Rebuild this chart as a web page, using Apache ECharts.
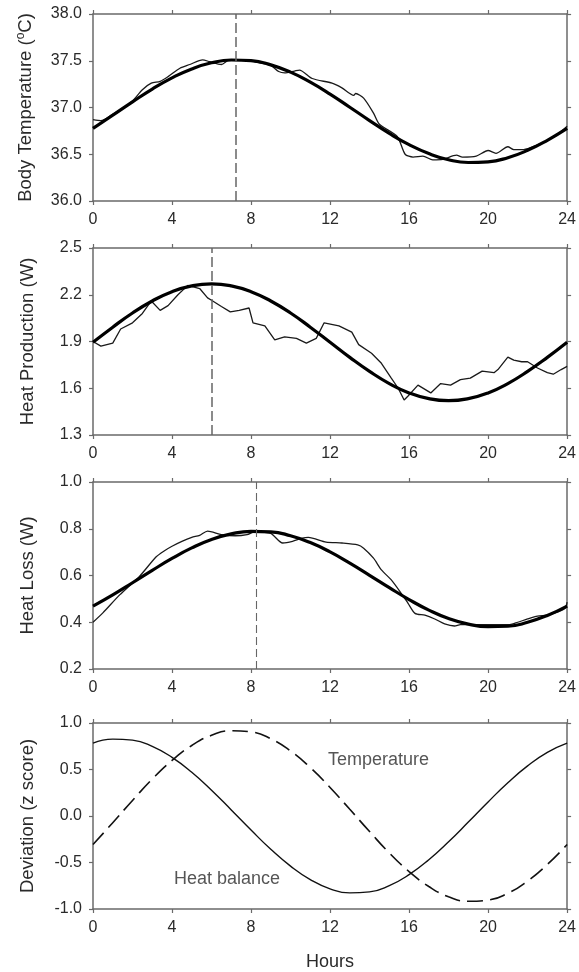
<!DOCTYPE html>
<html><head><meta charset="utf-8">
<script src="https://cdn.jsdelivr.net/npm/echarts@6/dist/echarts.min.js"></script>
<style>html,body{margin:0;padding:0;background:#fff}#c{width:579px;height:972px}</style>
</head><body><div id="c"></div>
<script>
// ---- data ----
const fitHours = [0,1,2,3,4,5,6,7,8,9,10,11,12,13,14,15,16,17,18,19,20,21,22,23,24];
const xTicks = [0,4,8,12,16,20,24];

const tempFit = [36.776,36.917,37.060,37.197,37.317,37.413,37.478,37.508,37.501,37.456,37.378,37.271,37.144,37.003,36.860,36.723,36.603,36.507,36.441,36.412,36.419,36.463,36.542,36.649,36.776];
const tempRawHours = [0,0.4,1,1.5,2,2.5,2.95,3.4,3.8,4.4,4.9,5.55,5.9,6.5,6.9,7.7,8.4,9,9.4,9.7,10.2,10.45,11.1,12.1,12.6,13.2,13.3,13.7,14.2,14.5,15.4,15.8,16.2,16.7,17.2,17.7,18.4,18.7,19.4,20.0,20.4,21.0,21.3,21.8,22.5,23,23.5,24];
const tempRawValues = [36.87,36.86,36.93,36.99,37.07,37.19,37.26,37.28,37.33,37.42,37.46,37.51,37.49,37.46,37.51,37.51,37.48,37.45,37.385,37.37,37.39,37.40,37.31,37.26,37.21,37.13,37.15,37.10,36.94,36.82,36.69,36.50,36.47,36.48,36.44,36.445,36.49,36.47,36.48,36.54,36.51,36.58,36.55,36.55,36.60,36.65,36.71,36.80];

const prodFit = [1.895,1.992,2.083,2.160,2.220,2.257,2.270,2.257,2.220,2.160,2.083,1.992,1.895,1.798,1.708,1.630,1.570,1.533,1.520,1.533,1.570,1.630,1.708,1.798,1.895];
const prodRawHours = [0,0.4,1,1.4,2,2.5,2.95,3.4,3.8,4.3,4.8,5.4,5.8,6.0,6.5,6.95,7.4,7.9,8.1,8.7,9.2,9.7,10.3,10.8,11.3,11.7,12.45,13.1,13.45,14.1,14.6,15.1,15.45,15.75,15.95,16.45,17.1,17.6,18.1,18.6,19.1,19.7,20.3,20.5,21.0,21.3,21.7,22.0,22.5,23.0,23.3,23.7,24];
const prodRawValues = [1.90,1.87,1.89,1.98,2.02,2.08,2.16,2.10,2.13,2.20,2.26,2.24,2.18,2.165,2.125,2.09,2.10,2.115,2.02,2.0,1.91,1.93,1.92,1.89,1.92,2.02,2.00,1.96,1.88,1.825,1.76,1.665,1.60,1.525,1.55,1.62,1.57,1.63,1.62,1.655,1.665,1.71,1.70,1.72,1.80,1.78,1.77,1.77,1.73,1.70,1.69,1.72,1.74];

const lossFit = [0.469,0.517,0.569,0.622,0.673,0.718,0.754,0.778,0.789,0.787,0.770,0.741,0.701,0.653,0.601,0.548,0.497,0.452,0.416,0.392,0.381,0.383,0.400,0.429,0.469];
const lossRawHours = [0,0.5,1.35,2.35,3.2,3.6,4.0,4.5,5.0,5.4,5.8,6.5,7.2,7.8,8.2,9.0,9.6,10.1,10.6,10.9,11.8,12.6,13.4,13.7,14.2,14.6,15.1,15.6,15.95,16.3,16.8,17.3,17.8,18.3,18.6,19.4,20.4,21.1,21.5,22,22.5,23,23.5,23.9,24];
const lossRawValues = [0.40,0.44,0.517,0.596,0.68,0.705,0.725,0.746,0.763,0.772,0.79,0.775,0.77,0.775,0.787,0.78,0.739,0.746,0.76,0.763,0.743,0.739,0.731,0.717,0.674,0.624,0.581,0.524,0.481,0.438,0.43,0.414,0.393,0.384,0.39,0.39,0.39,0.39,0.40,0.414,0.426,0.43,0.443,0.46,0.486];

const peakHours = [7.25, 6.0, 8.25];

const devTemperature = [-0.307,-0.072,0.167,0.397,0.597,0.758,0.868,0.917,0.904,0.831,0.699,0.521,0.307,0.072,-0.167,-0.397,-0.597,-0.758,-0.868,-0.917,-0.904,-0.831,-0.699,-0.521,-0.307];
const devHeatBalance = [0.783,0.827,0.816,0.749,0.631,0.470,0.277,0.065,-0.151,-0.358,-0.539,-0.684,-0.783,-0.827,-0.816,-0.749,-0.631,-0.470,-0.277,-0.065,0.151,0.358,0.539,0.684,0.783];

const annotationTexts = ['Temperature', 'Heat balance'];
const annotationHours = [11.9, 4.1];
const annotationValues = [0.607, -0.678];

const yNames = ['{n|Body Temperature (}{s|o}{n|C)}', 'Heat Production (W)', 'Heat Loss (W)', 'Deviation (z score)'];
const yMins = [36.0, 1.3, 0.2, -1.0];
const yMaxs = [38.0, 2.5, 1.0, 1.0];
const yIntervals = [0.5, 0.3, 0.2, 0.5];
const xName = 'Hours';

// ---- layout/style ----
const FONT = 'Liberation Sans, Arial, sans-serif';
const TXT = '#2a2a2a';
const FRAME = '#6a6a6a';
const tops = [14, 248, 482, 723];
const H = 187;

const grids = [], xAxes = [], yAxes = [], series = [];
const pair = (hs, vs) => hs.map((h, i) => [h, vs[i]]);

for (let p = 0; p < 4; p++) {
  grids.push({ left: 93, right: 6.5, top: tops[p], height: H });
  const baseX = {
    type: 'value', gridIndex: p, min: 0, max: 24, interval: 4,
    axisLine: { show: true, onZero: false, lineStyle: { color: FRAME, width: 1.5 } },
    axisTick: { show: true, inside: false, length: 4, lineStyle: { color: FRAME, width: 1.2 } },
    splitLine: { show: false }
  };
  xAxes.push(Object.assign({}, baseX, {
    position: 'bottom',
    axisLabel: { show: true, fontSize: 16, color: TXT, fontFamily: FONT, margin: 11,
      formatter: v => xTicks.includes(v) ? String(v) : '' },
    name: p === 3 ? xName : '', nameLocation: 'middle', nameGap: 44,
    nameTextStyle: { fontSize: 18, color: TXT, fontFamily: FONT }
  }));
  xAxes.push(Object.assign({}, baseX, { position: 'top', axisLabel: { show: false } }));
  const baseY = {
    type: 'value', gridIndex: p, min: yMins[p], max: yMaxs[p], interval: yIntervals[p],
    axisLine: { show: true, onZero: false, lineStyle: { color: FRAME, width: 1.5 } },
    axisTick: { show: true, inside: false, length: 4, lineStyle: { color: FRAME, width: 1.2 } },
    splitLine: { show: false }
  };
  yAxes.push(Object.assign({}, baseY, {
    position: 'left',
    axisLabel: { show: true, fontSize: 16, color: TXT, fontFamily: FONT, margin: 11,
      formatter: v => v.toFixed(1) },
    name: yNames[p], nameLocation: 'middle', nameGap: 56, nameRotate: 90,
    nameTextStyle: { fontSize: 18.5, color: TXT, fontFamily: FONT,
      rich: { n: { fontSize: 18.5, color: TXT, fontFamily: FONT, lineHeight: 22 },
              s: { fontSize: 12, color: TXT, fontFamily: FONT, lineHeight: 12, verticalAlign: 'top', padding: [0, 0, 6, 0] } } }
  }));
  yAxes.push(Object.assign({}, baseY, { position: 'right', axisLabel: { show: false } }));
}

const fits = [tempFit, prodFit, lossFit];
const rawH = [tempRawHours, prodRawHours, lossRawHours];
const rawV = [tempRawValues, prodRawValues, lossRawValues];
const dashes = [[10, 4], [10, 4], [8, 4]];
for (let p = 0; p < 3; p++) {
  series.push({
    type: 'line', xAxisIndex: 2 * p, yAxisIndex: 2 * p, data: pair(rawH[p], rawV[p]),
    showSymbol: false, symbol: 'none', smooth: p === 1 ? false : 0.25,
    lineStyle: { color: '#1a1a1a', width: 1.3 }, z: 3, silent: true,
    markLine: {
      silent: true, symbol: 'none', label: { show: false },
      lineStyle: { color: '#666', width: p === 2 ? 1.1 : 1.5, type: dashes[p] },
      data: [{ xAxis: peakHours[p] }]
    }
  });
  series.push({
    type: 'line', xAxisIndex: 2 * p, yAxisIndex: 2 * p, data: pair(fitHours, fits[p]),
    showSymbol: false, symbol: 'none', smooth: 0.5,
    lineStyle: { color: '#000', width: 3.2 }, z: 4, silent: true
  });
}
// deviation panel
series.push({
  type: 'line', xAxisIndex: 6, yAxisIndex: 6, data: pair(fitHours, devHeatBalance),
  showSymbol: false, symbol: 'none', smooth: 0.5, silent: true,
  lineStyle: { color: '#111', width: 1.4 }
});
series.push({
  type: 'line', xAxisIndex: 6, yAxisIndex: 6, data: pair(fitHours, devTemperature),
  showSymbol: false, symbol: 'none', smooth: 0.5, silent: true,
  lineStyle: { color: '#111', width: 1.6, type: [16, 7] }
});
series.push({
  type: 'scatter', xAxisIndex: 6, yAxisIndex: 6, symbolSize: 0, silent: true,
  data: annotationHours.map((h, i) => ({ value: [h, annotationValues[i]], name: annotationTexts[i] })),
  label: { show: true, position: 'right', distance: 0, formatter: d => d.name,
    fontSize: 18, color: TXT, fontFamily: FONT }
});

const chart = echarts.init(document.getElementById('c'), null, { renderer: 'canvas' });
chart.setOption({
  backgroundColor: '#fff', animation: false,
  grid: grids, xAxis: xAxes, yAxis: yAxes, series: series
});
</script></body></html>
